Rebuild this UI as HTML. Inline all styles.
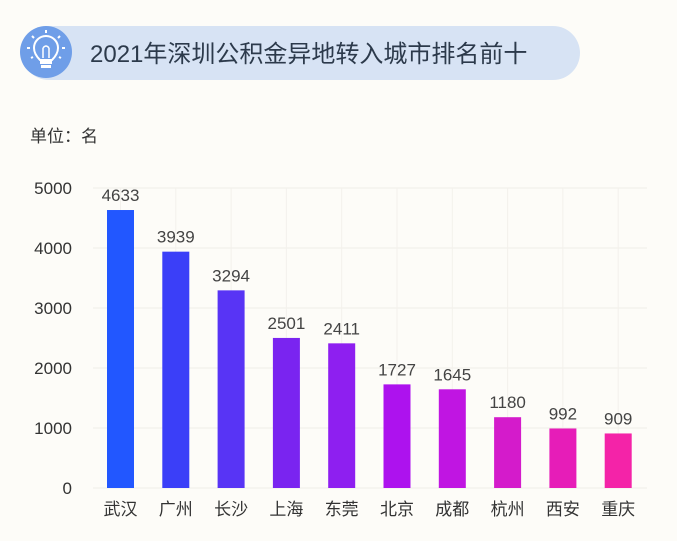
<!DOCTYPE html>
<html><head><meta charset="utf-8"><style>
body{margin:0;background:#fdfcf8;font-family:"Liberation Sans","Noto Sans CJK SC",sans-serif;}
#wrap{position:relative;width:677px;height:541px;overflow:hidden;background:#fdfcf8;}
</style></head><body>
<div id="wrap">
<svg width="677" height="541" id="svg">
  <rect x="22" y="26" width="558" height="54" rx="27" fill="#d7e3f4"/>
  <g>
    <circle cx="46" cy="52" r="26" fill="#6f9ee8"/>
    <path d="M40 60 Q34 54 34 48 A12 12 0 0 1 58 48 Q58 54 52 60 Z" fill="none" stroke="#fff" stroke-width="2"/>
    <rect x="40" y="61" width="12" height="3" fill="#fff"/><rect x="41" y="65" width="10" height="3" fill="#fff"/>
    <path d="M43 58 L43 48 M49 58 L49 48 M43 48 Q46 44 49 48" stroke="#fff" stroke-width="1.5" fill="none"/>
    <path d="M46 30 L46 33 M32 36 L34 38 M60 36 L58 38 M27 48 L30 48 M65 48 L62 48 M31 58 L33 57 M61 58 L59 57" stroke="#fff" stroke-width="2"/>
  </g>
  <text x="90" y="62" font-size="24" fill="#2c3a4b">2021年深圳公积金异地转入城市排名前十</text>
  <text x="30" y="142" font-size="17" fill="#333">单位：名</text>
  <g id="grid"></g><g id="bars"></g><g id="labels"></g>
</svg>
</div>
<script>
const categories=["武汉","广州","长沙","上海","东莞","北京","成都","杭州","西安","重庆"];
const values=[4633,3939,3294,2501,2411,1727,1645,1180,992,909];
const yTicks=[0,1000,2000,3000,4000,5000];
const colors=["#2257ff","#3b3ff8","#5834f5","#7a24f0","#8e1ff0","#ad12ee","#c015e2","#d41bcb","#e61db8","#f423a8"];
const NS="http://www.w3.org/2000/svg";
const x0=93,x1=647,y0=488,yMax=5000,plotH=300;
const step=55.3,bw=27,first=107;
function y(v){return y0-v/yMax*plotH;}
function xc(i){return first+bw/2+i*step;}
function mk(t,a,p){const e=document.createElementNS(NS,t);for(const k in a)e.setAttribute(k,a[k]);p.appendChild(e);return e;}
const grid=document.getElementById('grid'),bars=document.getElementById('bars'),labels=document.getElementById('labels');
yTicks.forEach(t=>{
  const l=mk('line',{x1:x0,x2:x1,y1:y(t),y2:y(t),stroke:"#f0eee8","stroke-width":1},grid);
  
  
  const tx=mk('text',{x:72,y:y(t)+6,"text-anchor":"end","font-size":17,fill:"#333"},labels);
  tx.textContent=t;
  
  
});
categories.forEach((c,i)=>{
  const vl=mk('line',{x1:xc(i),x2:xc(i),y1:y(yMax),y2:y0,stroke:"#f3f1ec","stroke-width":1},grid);
  
  
  const r=mk('rect',{x:xc(i)-bw/2,y:y(values[i]),width:bw,height:y0-y(values[i]),fill:colors[i]},bars);
  
  
  const v=mk('text',{x:xc(i),y:y(values[i])-9,"text-anchor":"middle","font-size":17,fill:"#444"},labels);
  v.textContent=values[i];
  
  
  const ct=mk('text',{x:xc(i),y:515,"text-anchor":"middle","font-size":17,fill:"#333"},labels);
  ct.textContent=c;
  
  
});
</script>
</body></html>
